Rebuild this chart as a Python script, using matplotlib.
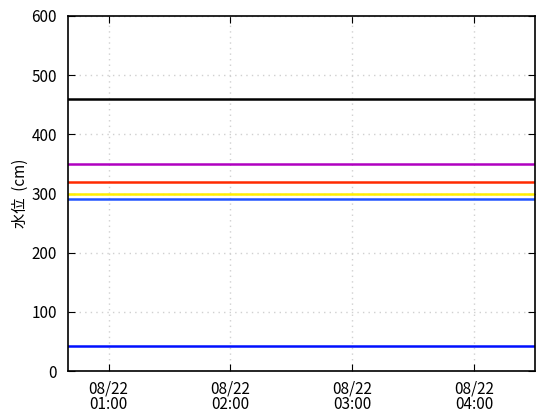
import numpy as np
import matplotlib
matplotlib.use("Agg")
import matplotlib.pyplot as plt
import matplotlib.dates as mdates
from datetime import datetime

plt.rcParams['font.family'] = ['Noto Sans CJK JP', 'DejaVu Sans']

# time range of the chart
t_start = datetime(2023, 8, 22, 0, 40)
t_end = datetime(2023, 8, 22, 4, 30)

# constant water levels (cm)
levels = [460, 350, 320, 300, 290, 42]
colors = ['#000000', '#b000c0', '#ff2a00', '#ffee00', '#2255ff', '#0010ff']

fig = plt.figure(figsize=(5.6, 4.2), dpi=100)
ax = fig.add_axes([68/560, 49/420, 467/560, 355/420])

for lv, c in zip(levels, colors):
    ax.plot([t_start, t_end], [lv, lv], color=c, lw=1.8)

ax.set_xlim(t_start, t_end)
ax.set_ylim(0, 600)
ax.set_yticks(np.arange(0, 601, 100))
ax.xaxis.set_major_locator(mdates.HourLocator())
ax.xaxis.set_major_formatter(mdates.DateFormatter('%m/%d\n%H:%M'))
ax.tick_params(direction='in', top=True, right=True, length=5, labelsize=11)
ax.tick_params(axis='x', pad=7)
ax.tick_params(axis='y', pad=8)
for lab in ax.get_xticklabels():
    lab.set_linespacing(0.9)
ax.grid(True, color='#d0d0d0', linestyle=(0, (1, 3)), linewidth=1)
for s in ax.spines.values():
    s.set_linewidth(1.2)
ax.set_ylabel('水位  (cm)', fontsize=11, labelpad=2)

fig.savefig('out.png', dpi=100)
